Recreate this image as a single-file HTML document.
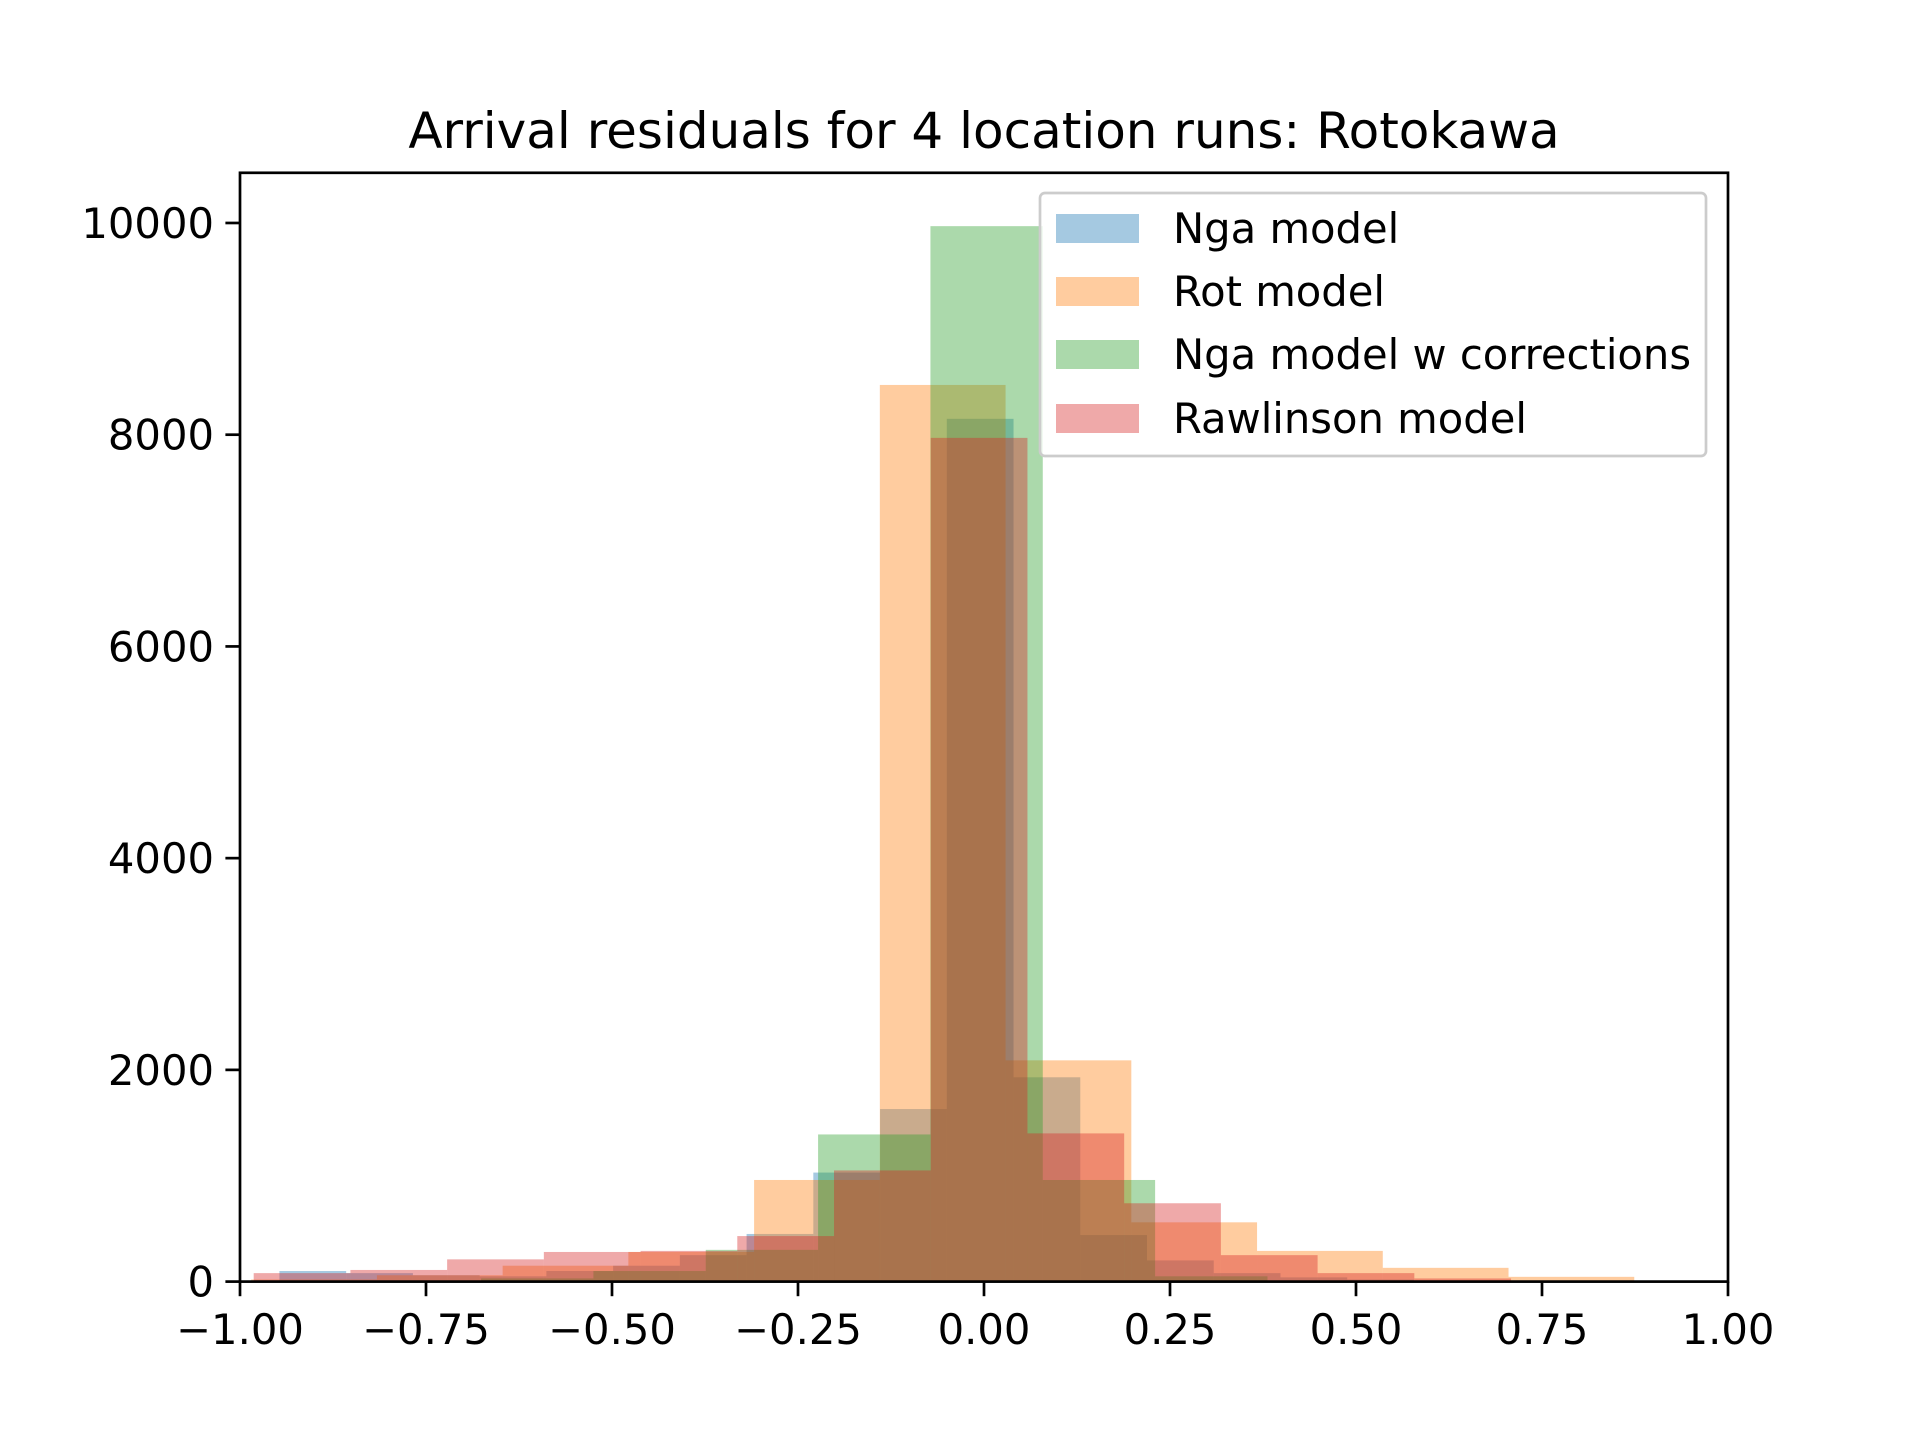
<!DOCTYPE html>
<html><head><meta charset="utf-8"><style>
html,body{margin:0;padding:0;background:#fff}
svg{display:block;font-family:"DejaVu Sans","Liberation Sans",sans-serif}
</style></head><body>
<svg id="chart" width="1920" height="1440" xmlns="http://www.w3.org/2000/svg">
<rect width="1920" height="1440" fill="#fff"/>
<text x="984" y="148" font-size="50" text-anchor="middle">Arrival residuals for 4 location runs: Rotokawa</text>
<g id="bars"></g>
<g id="axes"></g>
<g id="legend"></g>
</svg>
<script>
const seriesNames = ["Nga model","Rot model","Nga model w corrections","Rawlinson model"];
const seriesColors = ["#1f77b4","#ff7f0e","#2ca02c","#d62728"];
const ngaStart = -0.947, ngaWidth = 0.0897;
const ngaCounts = [100,80,60,50,100,150,250,450,1030,1630,8150,1930,440,200,80,40,20,10,5,0];
const rotStart = -0.985, rotWidth = 0.169;
const rotCounts = [20,60,150,280,960,8470,2090,560,290,130,45];
const corrStart = -0.978, corrWidth = 0.151;
const corrCounts = [5,10,30,100,300,1390,9970,960,50,10,5];
const rawStart = -0.9816, rawWidth = 0.130;
const rawCounts = [80,110,210,280,290,430,1050,7970,1400,740,250,80,30,10];
const xTicks = [-1,-0.75,-0.5,-0.25,0,0.25,0.5,0.75,1];
const xTickLabels = ["\u22121.00","\u22120.75","\u22120.50","\u22120.25","0.00","0.25","0.50","0.75","1.00"];
const yTicks = [0,2000,4000,6000,8000,10000];
const yTickLabels = ["0","2000","4000","6000","8000","10000"];

const L=240,R=1728,T=172.8,B=1281.6,XMIN=-1,XMAX=1,YMAX=10474;
const NS="http://www.w3.org/2000/svg";
function xs(v){return L+(v-XMIN)/(XMAX-XMIN)*(R-L);}
function ys(v){return B-v/YMAX*(B-T);}
function mk(tag,attrs,parent){const e=document.createElementNS(NS,tag);for(const k in attrs)e.setAttribute(k,attrs[k]);parent.appendChild(e);return e;}

const series=[[ngaStart,ngaWidth,ngaCounts],[rotStart,rotWidth,rotCounts],[corrStart,corrWidth,corrCounts],[rawStart,rawWidth,rawCounts]];
const bars=document.getElementById('bars');
const cp=mk('clipPath',{id:'clip'},bars);
mk('rect',{x:L,y:T,width:R-L,height:B-T},cp);
bars.setAttribute('clip-path','url(#clip)');
series.forEach((s,si)=>{
  const [st,w,c]=s;
  c.forEach((v,i)=>{
    const x0=xs(st+i*w),x1=xs(st+(i+1)*w);
    const r=mk('rect',{x:x0,y:ys(v),width:x1-x0,height:B-ys(v),fill:seriesColors[si],'fill-opacity':0.4},bars);
    
    
  });
});
const ax=document.getElementById('axes');
const frame=mk('rect',{x:L,y:T,width:R-L,height:B-T,fill:'none',stroke:'#000','stroke-width':2.7},ax);


xTicks.forEach((v,i)=>{
  mk('line',{x1:xs(v),x2:xs(v),y1:B,y2:B+14.6,stroke:'#000','stroke-width':2.7},ax);
  const t=mk('text',{x:xs(v),y:1344,'font-size':41.7,'text-anchor':'middle'},ax);
  t.textContent=xTickLabels[i];
  
  
});
yTicks.forEach((v,i)=>{
  mk('line',{x1:L-14.6,x2:L,y1:ys(v),y2:ys(v),stroke:'#000','stroke-width':2.7},ax);
  const t=mk('text',{x:L-26,y:ys(v)+15,'font-size':41.7,'text-anchor':'end'},ax);
  t.textContent=yTickLabels[i];
  
  
});
const lg=document.getElementById('legend');
mk('rect',{x:1040,y:193,width:666,height:263,rx:5,fill:'#fff','fill-opacity':0.8,stroke:'#ccc','stroke-width':2.7},lg);
const ly=[228,291,354,418];
seriesNames.forEach((n,i)=>{
  const p=mk('rect',{x:1056,y:ly[i]-14,width:83,height:29,fill:seriesColors[i],'fill-opacity':0.4},lg);
  
  
  const t=mk('text',{x:1173,y:ly[i]+15,'font-size':41.7},lg);
  t.textContent=n;
  
  
});
</script>
</body></html>
